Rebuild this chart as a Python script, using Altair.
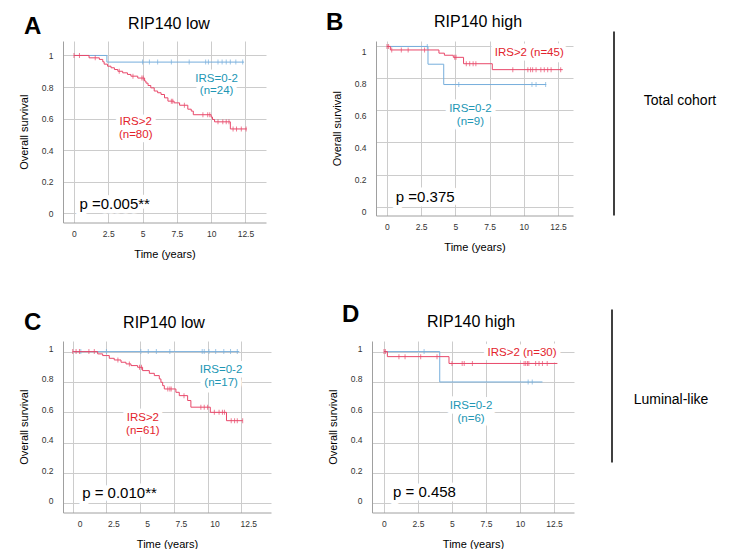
import altair as alt
import pandas as pd

FONT = "Liberation Sans"
RED_LINE = "#E8486A"
BLUE_LINE = "#76AEDC"
RED_TXT = "#E3232C"
TEAL_TXT = "#2196B4"

X_TICKS = [0, 2.5, 5, 7.5, 10, 12.5]
Y_TICKS = [0, 0.2, 0.4, 0.6, 0.8, 1]

# ---- Panel A (Total cohort, RIP140 low)
A_red_t = [0, 1.1, 1.85, 2.1, 2.2, 2.45, 2.7, 2.95, 3.2, 3.55, 3.9, 4.15, 4.65, 5.15, 5.25, 5.4,
           5.6, 5.85, 6.1, 6.35, 6.6, 6.85, 7.3, 7.7, 8.3, 8.55, 8.7, 10.0, 10.1, 10.25, 11.4]
A_red_s = [1, 0.985, 0.975, 0.96, 0.945, 0.932, 0.922, 0.911, 0.90, 0.89, 0.88, 0.869, 0.857, 0.838,
           0.825, 0.81, 0.795, 0.775, 0.764, 0.753, 0.732, 0.711, 0.70, 0.685, 0.66, 0.648, 0.625,
           0.61, 0.595, 0.58, 0.535]
A_red_end = 12.6
A_red_cens = [0.0, 0.4, 1.55, 3.3, 4.3, 4.95, 5.05, 7.1, 7.2, 8.05, 9.4, 9.75, 9.9, 10.5, 10.85,
              11.1, 11.3, 11.6, 11.85, 12.2, 12.55]
A_blue_t = [0, 2.4]
A_blue_s = [1, 0.958]
A_blue_end = 12.4
A_blue_cens = [5.0, 5.5, 6.1, 7.1, 8.4, 9.6, 9.8, 10.5, 10.8, 11.1, 11.4, 11.8, 12.3]

# ---- Panel B (Total cohort, RIP140 high)
B_red_t = [0, 0.25, 3.8, 4.2, 4.85, 5.6, 7.7]
B_red_s = [1, 0.978, 0.958, 0.945, 0.932, 0.892, 0.855]
B_red_end = 12.85
B_red_cens = [0.0, 0.12, 0.35, 1.05, 1.55, 2.75, 4.95, 5.05, 5.8, 6.05, 6.3, 6.5, 9.2, 10.3, 10.5,
              10.65, 10.9, 11.25, 11.5, 11.75, 12.0, 12.7]
B_blue_t = [0, 3.0, 4.15]
B_blue_s = [1, 0.889, 0.762]
B_blue_end = 11.65
B_blue_cens = [2.95, 5.25, 10.6, 10.9, 11.6]

# ---- Panel C (Luminal-like, RIP140 low)
C_red_t = [0, 1.85, 2.22, 2.71, 3.08, 3.58, 3.95, 4.32, 4.81, 5.18, 5.68, 6.05, 6.42, 6.54, 6.67,
           6.79, 7.65, 7.9, 8.52, 8.76, 10.2, 11.4]
C_red_s = [1, 0.985, 0.974, 0.956, 0.945, 0.93, 0.919, 0.908, 0.897, 0.875, 0.857, 0.842, 0.82,
           0.798, 0.776, 0.754, 0.732, 0.71, 0.678, 0.634, 0.60, 0.545]
C_red_end = 12.6
C_red_cens = [0.0, 0.25, 0.5, 1.2, 1.6, 3.35, 4.2, 4.95, 5.1, 7.05, 7.2, 7.3, 8.25, 9.5, 9.75,
              10.0, 10.5, 10.85, 11.1, 11.25, 11.75, 12.0, 12.2, 12.6]
C_blue_t = [0]
C_blue_s = [1]
C_blue_end = 12.35
C_blue_cens = [0.6, 2.5, 5.05, 5.6, 6.2, 7.2, 9.6, 9.75, 10.1, 10.6, 11.2, 11.7, 12.2]

# ---- Panel D (Luminal-like, RIP140 high)
D_red_t = [0, 0.25, 4.78]
D_red_s = [1, 0.967, 0.922]
D_red_end = 12.75
D_red_cens = [0.0, 0.1, 1.1, 1.55, 2.7, 3.9, 5.0, 5.75, 5.9, 6.5, 10.3, 10.42, 10.55, 10.65,
              11.15, 11.4, 11.65, 12.0]
D_blue_t = [0, 4.1]
D_blue_s = [1, 0.8]
D_blue_end = 11.65
D_blue_cens = [2.95, 10.6, 10.9]

# annotation texts: (text, t, s, color, size, align)
A_texts = [("IRS=0-2", 10.4, 0.854, TEAL_TXT, 11.5, "center"), ("(n=24)", 10.4, 0.772, TEAL_TXT, 11.5, "center"),
           ("IRS>2", 4.5, 0.58, RED_TXT, 11.5, "center"), ("(n=80)", 4.5, 0.498, RED_TXT, 11.5, "center"),
           ("p =0.005**", 0.4, 0.063, "black", 15, "left")]
B_texts = [("IRS>2 (n=45)", 10.4, 0.956, RED_TXT, 11.5, "center"),
           ("IRS=0-2", 6.1, 0.61, TEAL_TXT, 11.5, "center"), ("(n=9)", 6.1, 0.529, TEAL_TXT, 11.5, "center"),
           ("p =0.375", 0.65, 0.06, "black", 15, "left")]
C_texts = [("IRS=0-2", 11.0, 0.88, TEAL_TXT, 11.5, "center"), ("(n=17)", 11.0, 0.795, TEAL_TXT, 11.5, "center"),
           ("IRS>2", 5.2, 0.565, RED_TXT, 11.5, "center"), ("(n=61)", 5.2, 0.48, RED_TXT, 11.5, "center"),
           ("p = 0.010**", 0.7, 0.066, "black", 15, "left")]
D_texts = [("IRS>2 (n=30)", 10.15, 0.99, RED_TXT, 11.5, "center"),
           ("IRS=0-2", 6.4, 0.64, TEAL_TXT, 11.5, "center"), ("(n=6)", 6.4, 0.555, TEAL_TXT, 11.5, "center"),
           ("p = 0.458", 0.66, 0.072, "black", 15, "left")]


def step_value(ts, ss, t):
    v = ss[0]
    for ti, si in zip(ts, ss):
        if ti <= t:
            v = si
    return v


ONE = pd.DataFrame({"v": [0]})


def panel(letter, title, curves, texts, xdom, ydom, w, h, letter_pos, title_pos,
          xlabeloff=0, ylabeloff=0, side=None):
    x = alt.X("t:Q", scale=alt.Scale(domain=xdom, nice=False, zero=False),
              axis=alt.Axis(values=X_TICKS, title="Time (years)", labelExpr="'' + datum.value",
                            labelOffset=xlabeloff, labelPadding=7, titlePadding=10))
    y = alt.Y("s:Q", scale=alt.Scale(domain=ydom, nice=False, zero=False),
              axis=alt.Axis(values=Y_TICKS, title="Overall survival", labelExpr="'' + datum.value",
                            labelOffset=ylabeloff, labelPadding=10, titlePadding=12))
    layers = []
    # white halos behind annotation texts (hide the grid under the labels)
    for txt, tt, ss_, col, size, align in texts:
        tdf = pd.DataFrame({"t": [tt], "s": [ss_], "label": [txt]})
        layers.append(alt.Chart(tdf).mark_text(font=FONT, fontSize=size, color="white", align=align,
                                               baseline="middle", stroke="white", strokeWidth=9,
                                               strokeJoin="round")
                      .encode(x=x, y=y, text="label:N"))
    for ts, ss, end, cens, color in curves:
        df = pd.DataFrame({"t": ts + [end], "s": ss + [ss[-1]]})
        layers.append(alt.Chart(df).mark_line(interpolate="step-after", color=color, strokeWidth=1)
                      .encode(x=x, y=y))
        cdf = pd.DataFrame({"t": cens, "s": [step_value(ts, ss, c) for c in cens]})
        layers.append(alt.Chart(cdf).mark_tick(orient="vertical", size=5, thickness=1, color=color)
                      .encode(x=x, y=y))
    for txt, tt, ss_, col, size, align in texts:
        tdf = pd.DataFrame({"t": [tt], "s": [ss_], "label": [txt]})
        layers.append(alt.Chart(tdf).mark_text(font=FONT, fontSize=size, color=col, align=align,
                                               baseline="middle")
                      .encode(x=x, y=y, text="label:N"))
    layers.append(alt.Chart(ONE).mark_text(text=letter, font=FONT, fontSize=24, fontWeight="bold",
                                           align="left", baseline="alphabetic", color="black")
                  .encode(x=alt.value(letter_pos[0]), y=alt.value(letter_pos[1])))
    layers.append(alt.Chart(ONE).mark_text(text=title, font=FONT, fontSize=16, align="center",
                                           baseline="middle", color="black")
                  .encode(x=alt.value(title_pos[0]), y=alt.value(title_pos[1])))
    if side is not None:
        lx, ly1, ly2, tx, ty, stext = side
        layers.append(alt.Chart(ONE).mark_rule(color="black", strokeWidth=1.5)
                      .encode(x=alt.value(lx), y=alt.value(ly1), y2=alt.value(ly2)))
        layers.append(alt.Chart(ONE).mark_text(text=stext, font=FONT, fontSize=14, align="center",
                                               baseline="middle", color="black")
                      .encode(x=alt.value(tx), y=alt.value(ty)))
    return alt.layer(*layers).properties(width=w, height=h)


pA = panel("A", "RIP140 low",
           [(A_blue_t, A_blue_s, A_blue_end, A_blue_cens, BLUE_LINE),
            (A_red_t, A_red_s, A_red_end, A_red_cens, RED_LINE)],
           A_texts, [-0.8, 14.0], [-0.057, 1.0915], 203, 181.5, (-39, -7.5), (106, -17.5))
pB = panel("B", "RIP140 high",
           [(B_blue_t, B_blue_s, B_blue_end, B_blue_cens, BLUE_LINE),
            (B_red_t, B_red_s, B_red_end, B_red_cens, RED_LINE)],
           B_texts, [-0.8, 13.6], [-0.056, 1.034], 197, 174.5, (-50, -11.5), (102, -19.5),
           ylabeloff=5, side=(238, -9.5, 174.5, 304, 59.5, "Total cohort"))
pC = panel("C", "RIP140 low",
           [(C_blue_t, C_blue_s, C_blue_end, C_blue_cens, BLUE_LINE),
            (C_red_t, C_red_s, C_red_end, C_red_cens, RED_LINE)],
           C_texts, [-0.72, 14.7], [-0.06, 1.07], 208, 171.5, (-39, -11.5), (101, -18.5),
           xlabeloff=7, ylabeloff=-3)
pD = panel("D", "RIP140 high",
           [(D_blue_t, D_blue_s, D_blue_end, D_blue_cens, BLUE_LINE),
            (D_red_t, D_red_s, D_red_end, D_red_cens, RED_LINE)],
           D_texts, [-0.88, 13.97], [-0.06, 1.07], 202, 171.5, (-30, -19.5), (99, -19.5),
           ylabeloff=-3, side=(240, -31.5, 121.5, 299, 58.5, "Luminal-like"))

row1 = alt.hconcat(pA, pB, spacing=60)
row2 = alt.hconcat(pC, pD, spacing=56)
chart = alt.vconcat(row1, row2, spacing=43).properties(
    padding={"left": 10, "top": 2, "right": 0, "bottom": 0}
).configure_view(stroke=None).configure_axis(
    labelFont=FONT, labelFontSize=8.5, labelColor="#333333",
    titleFont=FONT, titleFontSize=11, titleFontWeight="normal", titleColor="black",
    domainColor="#a0a0a0", gridColor="#cccccc", ticks=False, tickSize=0, grid=True
)

chart.save("out.html", embed_options={"renderer": "svg", "actions": False})
